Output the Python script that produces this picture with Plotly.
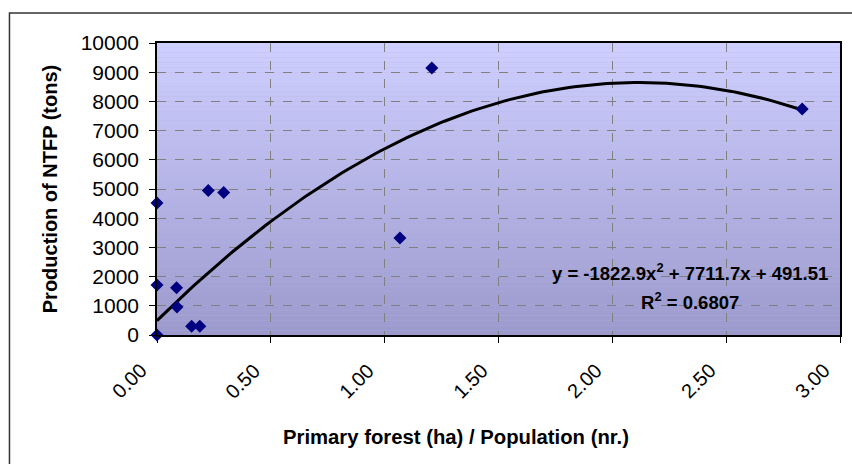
import numpy as np
import plotly.graph_objects as go

# Data
forest_per_pop = [0.00, 0.00, 0.00, 0.086, 0.088, 0.152, 0.188, 0.225, 0.293, 1.067, 1.207, 2.834]
ntfp_tons = [0, 4520, 1710, 1620, 960, 300, 300, 4950, 4880, 3320, 9140, 7740]

# Trendline coefficients as printed on the chart
coef_a, coef_b, coef_c = -1822.9, 7711.7, 491.51
eq_text = "y = -1822.9x<sup>2</sup> + 7711.7x + 491.51"
r2_text = "R<sup>2</sup> = 0.6807"

x_ticks = [0, 0.5, 1.0, 1.5, 2.0, 2.5, 3.0]
x_tick_labels = ["0.00", "0.50", "1.00", "1.50", "2.00", "2.50", "3.00"]
y_ticks = [0, 1000, 2000, 3000, 4000, 5000, 6000, 7000, 8000, 9000, 10000]
y_tick_labels = ["0", "1000", "2000", "3000", "4000", "5000", "6000", "7000", "8000", "9000", "10000"]
x_title = "Primary forest (ha) / Population (nr.)"
y_title = "Production of NTFP (tons)"

FONT = "Arial, Liberation Sans, sans-serif"

trend_x = np.linspace(0, max(forest_per_pop), 120)
trend_y = coef_a * trend_x**2 + coef_b * trend_x + coef_c

fig = go.Figure()
fig.add_trace(go.Scatter(x=trend_x, y=trend_y, mode="lines",
                         line=dict(color="black", width=3), hoverinfo="skip",
                         showlegend=False))
fig.add_trace(go.Scatter(x=forest_per_pop, y=ntfp_tons, mode="markers",
                         marker=dict(symbol="diamond", size=10, color="#000080"),
                         cliponaxis=False, showlegend=False))

# Vertical gradient background of the plot area
n = 60
top = np.array([206, 206, 255])
bot = np.array([156, 154, 204])
shapes = []
for i in range(n):
    t = (i + 0.5) / n
    c = top * (1 - t) + bot * t
    shapes.append(dict(type="rect", xref="x domain", yref="y domain",
                       x0=0, x1=1, y0=1 - (i + 1) / n, y1=1 - i / n,
                       fillcolor="rgb(%d,%d,%d)" % tuple(c.round()),
                       line=dict(width=0), layer="below"))
# outer chart frame
shapes.append(dict(type="rect", xref="paper", yref="paper",
                   x0=-0.216, x1=1.2, y0=-0.6, y1=1.103,
                   line=dict(color="#333333", width=1.5), fillcolor="rgba(0,0,0,0)"))

fig.update_layout(
    width=852, height=464,
    margin=dict(l=157, r=10, t=43, b=129),
    paper_bgcolor="white", plot_bgcolor="#B4B4E4",
    font=dict(family=FONT, color="black"),
    shapes=shapes,
)
# rotated x tick labels, offset like the original
for xv, lab in zip(x_ticks, x_tick_labels):
    fig.add_annotation(x=xv, y=0, xref="x", yref="paper", text=lab, showarrow=False,
                       textangle=-45, xanchor="center", yanchor="middle",
                       xshift=-28, yshift=-46,
                       font=dict(size=20, family=FONT, color="black"))
fig.add_annotation(x=2.343, y=2150, xref="x", yref="y", text=eq_text, showarrow=False,
                   font=dict(size=18.5, family=FONT, color="black", weight="bold"),
                   xanchor="center", yanchor="middle")
fig.add_annotation(x=2.343, y=1160, xref="x", yref="y", text=r2_text, showarrow=False,
                   font=dict(size=18.5, family=FONT, color="black", weight="bold"),
                   xanchor="center", yanchor="middle")
fig.add_annotation(x=0.438, y=0, xref="paper", yref="paper", text=x_title, showarrow=False,
                   xanchor="center", yanchor="middle", yshift=-102,
                   font=dict(size=20.3, family=FONT, color="black", weight="bold"))

fig.update_xaxes(range=[0, 3], tickvals=x_ticks, showticklabels=False,
                 showgrid=True, gridcolor="#808080", griddash="dash", gridwidth=1,
                 showline=True, linecolor="black", linewidth=1.5, mirror=True,
                 ticks="outside", ticklen=6, tickcolor="black", zeroline=False)
fig.update_yaxes(range=[0, 10000], tickvals=y_ticks, ticktext=y_tick_labels,
                 showgrid=True, gridcolor="#808080", griddash="dash", gridwidth=1,
                 showline=True, linecolor="black", linewidth=1.5, mirror=True,
                 ticks="outside", ticklen=6, tickcolor="black", ticklabelstandoff=6,
                 tickfont=dict(size=21, family=FONT), zeroline=False,
                 title=dict(text=y_title,
                            font=dict(size=20, family=FONT, weight="bold"), standoff=18))

fig.write_html("out.html")
